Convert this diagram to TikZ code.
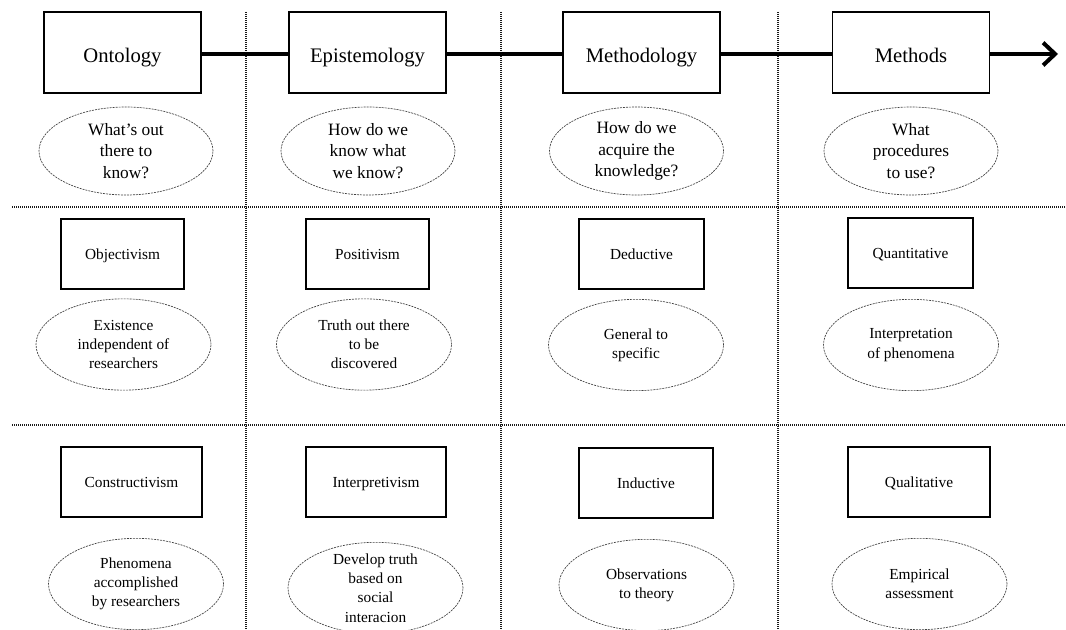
\documentclass[tikz,border=0pt]{standalone}
\usepackage{fontspec}
\setmainfont{Liberation Serif}
\usetikzlibrary{shapes.geometric,arrows.meta}
\begin{document}
\begin{tikzpicture}[x=0.75pt,y=-0.75pt,
  mainbox/.style={draw,line width=1.2pt,minimum width=117.75pt,minimum height=60.75pt,inner sep=0pt,text height=16pt,text depth=1.5pt,font=\fontsize{15.5}{18}\selectfont},
  catbox/.style={draw,line width=1pt,minimum height=52.5pt,inner sep=0pt,text height=10pt,text depth=1.6pt,font=\fontsize{11.5}{14}\selectfont},
  ovalbase/.style={ellipse,draw=black!75,line width=0.5pt,dash pattern=on 1.5pt off 0.75pt,inner sep=0pt,align=center},
  qoval/.style={ovalbase,minimum width=130.5pt,minimum height=66pt,font=\fontsize{13}{16.3}\selectfont},
  doval/.style={ovalbase,minimum width=131.25pt,minimum height=68.5pt,font=\fontsize{11.5}{14.4}\selectfont},
  divider/.style={line width=0.8pt,black!90,dash pattern=on 0.75pt off 0.75pt},
  flow/.style={line width=3pt}
]
\useasboundingbox (0,0) rectangle (1066,630);

% column and row dividers
\draw[divider] (246,12) -- (246,630);
\draw[divider] (501,12) -- (501,630);
\draw[divider] (778,12) -- (778,630);
\draw[divider] (12,207) -- (1066,207);
\draw[divider] (12,425) -- (1066,425);

% top row: research layers
\node[mainbox] (ont)  at (122.5,52.5) {Ontology};
\node[mainbox] (epi)  at (367.5,52.5) {Epistemology};
\node[mainbox] (mety) at (641.5,52.5) {Methodology};
\node[mainbox] (mets) at (911,52.5)   {Methods};
\coordinate (flowend) at (1058,54);

\draw[flow] (ont.east |- flowend) -- (epi.west |- flowend);
\draw[flow] (epi.east |- flowend) -- (mety.west |- flowend);
\draw[flow] (mety.east |- flowend) -- (mets.west |- flowend);
\draw[flow,-{Straight Barb[length=9pt,width=17pt,line width=3pt]}] (mets.east |- flowend) -- (flowend);

% guiding questions
\node[qoval] (q1) at (126,151)   {What’s out\\there to\\know?};
\node[qoval] (q2) at (368,151)   {How do we\\know what\\we know?};
\node[qoval] (q3) at (636.5,151) {How do we\\acquire the\\knowledge?};
\node[qoval] (q4) at (911,151)   {What\\procedures\\to use?};

% second row
\node[catbox,minimum width=92.25pt] (obj)  at (122.5,254) {Objectivism};
\node[catbox,minimum width=92.25pt] (pos)  at (367.5,254) {Positivism};
\node[catbox,minimum width=93.75pt] (ded)  at (641.5,254) {Deductive};
\node[catbox,minimum width=93.75pt] (quan) at (910.5,253) {Quantitative};

\node[doval] (d1) at (123.5,344.5) {Existence\\independent of\\researchers};
\node[doval] (d2) at (364,344.5)   {Truth out there\\to be\\discovered};
\node[doval] (d3) at (636,345)     {General to\\specific};
\node[doval] (d4) at (911,345)     {Interpretation\\of phenomena};

% third row
\node[catbox,minimum width=105.75pt] (con)  at (131.5,482) {Constructivism};
\node[catbox,minimum width=105pt]    (intp) at (376,482)   {Interpretivism};
\node[catbox,minimum width=100.5pt]  (ind)  at (646,483)   {Inductive};
\node[catbox,minimum width=106.5pt]  (qual) at (919,482)   {Qualitative};

\node[doval] (e1) at (136,584)   {Phenomena\\accomplished\\by researchers};
\node[doval,inner ysep=-12pt] (e2) at (375.5,588) {Develop truth\\based on\\social\\interacion};
\node[doval] (e3) at (646.5,585) {Observations\\to theory};
\node[doval] (e4) at (919.5,584) {Empirical\\assessment};
\end{tikzpicture}
\end{document}
